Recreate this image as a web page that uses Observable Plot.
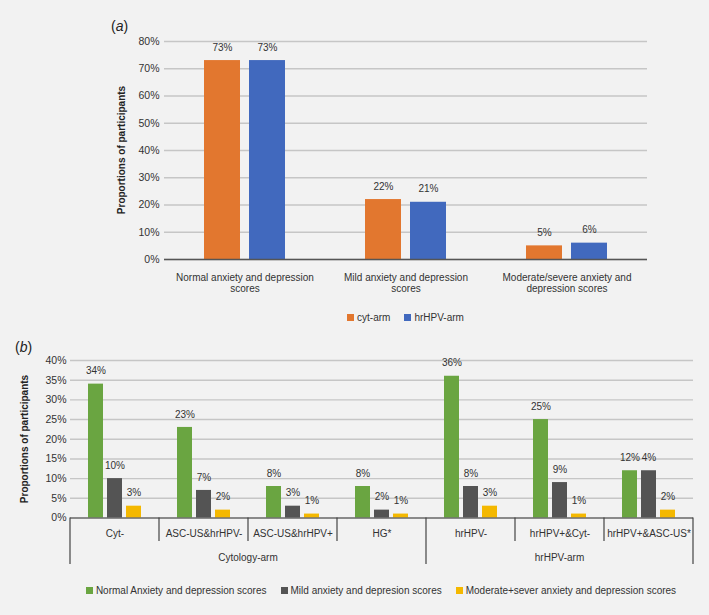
<!DOCTYPE html>
<html><head><meta charset="utf-8">
<script src="https://cdn.jsdelivr.net/npm/d3@7"></script>
<script src="https://cdn.jsdelivr.net/npm/@observablehq/plot@0.6"></script>
<style>
html,body{margin:0;padding:0;background:#f2f2f2;}
#root{position:relative;width:709px;height:615px;overflow:hidden;font-family:"Liberation Sans",Arial,sans-serif;color:#333;}
.abs{position:absolute;}
.ptitle{font-size:14px;color:#222;line-height:1;transform:translateY(-50%);}
.ytitle{font-size:10px;font-weight:bold;color:#222;white-space:nowrap;line-height:1;transform:translate(-50%,-50%) rotate(-90deg);}
.legwrap{display:flex;justify-content:center;align-items:center;}
.legwrap .lg-swatches-wrap{min-height:0;margin:0;display:flex;align-items:center;}
.legwrap .lg-swatches{margin:0;}
.legwrap .lg-swatch{margin-right:14px;font-family:"Liberation Sans",Arial,sans-serif;font-size:10px;color:#333;}
.legwrap .lg-swatch:last-child{margin-right:0;}
.legwrap .lg-swatch > svg{margin-right:3px;}
</style>
</head><body>
<div id="root"></div>
<script>
// ---------- Panel (a) data ----------
const aCategories = ["Normal anxiety and depression scores", "Mild anxiety and depression scores", "Moderate/severe anxiety and depression scores"];
const aTickLabels = ["Normal anxiety and depression\nscores", "Mild anxiety and depression\nscores", "Moderate/severe anxiety and\ndepression scores"];
const aSeries = ["cyt-arm", "hrHPV-arm"];
const aCyt = [73, 22, 5];
const aHrHPV = [73, 21, 6];
const aColors = ["#e2772f", "#4169be"];
const aYTicks = [0, 10, 20, 30, 40, 50, 60, 70, 80];

// ---------- Panel (b) data ----------
const bCategories = ["Cyt-", "ASC-US&hrHPV-", "ASC-US&hrHPV+", "HG*", "hrHPV-", "hrHPV+&Cyt-", "hrHPV+&ASC-US*"];
const bGroups = ["Cytology-arm", "Cytology-arm", "Cytology-arm", "Cytology-arm", "hrHPV-arm", "hrHPV-arm", "hrHPV-arm"];
const bSeries = ["Normal Anxiety and depression scores", "Mild anxiety and depresion scores", "Moderate+sever anxiety and depression scores"];
const bNormal = [34, 23, 8, 8, 36, 25, 12];
const bMild = [10, 7, 3, 2, 8, 9, 12];
const bModerate = [3, 2, 1, 1, 3, 1, 2];
const bNormalLabels = ["34%", "23%", "8%", "8%", "36%", "25%", "12%"];
const bMildLabels = ["10%", "7%", "3%", "2%", "8%", "9%", "4%"];
const bModerateLabels = ["3%", "2%", "1%", "1%", "3%", "1%", "2%"];
const bColors = ["#6aa541", "#545454", "#f4b800"];
const bYTicks = [0, 5, 10, 15, 20, 25, 30, 35, 40];

const root = document.getElementById("root");
const font = '"Liberation Sans", Arial, sans-serif';

function addDiv(cls, html, left, top, extra) {
  const d = document.createElement("div");
  d.className = "abs " + cls;
  d.innerHTML = html;
  d.style.left = left + "px";
  d.style.top = top + "px";
  if (extra) Object.assign(d.style, extra);
  root.appendChild(d);
  return d;
}

// ---------- Panel (a) ----------
const aData = aCategories.flatMap((c, i) => [
  {category: c, series: aSeries[0], value: aCyt[i]},
  {category: c, series: aSeries[1], value: aHrHPV[i]}
]);

const chartA = Plot.plot({
  width: 709, height: 300,
  marginTop: 41, marginBottom: 41, marginLeft: 164, marginRight: 62,
  style: {background: "transparent", fontFamily: font, fontSize: "10px", color: "#333"},
  fx: {domain: aCategories, padding: 0, label: null, axis: null},
  x: {domain: aSeries, paddingInner: 0.2, paddingOuter: 0.877, axis: null},
  y: {domain: [0, 80], label: null, axis: null},
  color: {domain: aSeries, range: aColors},
  marks: [
    Plot.gridY(aYTicks, {stroke: "#c6c6c6", strokeOpacity: 1, strokeWidth: 1.4}),
    Plot.axisY(aYTicks, {tickSize: 0, tickPadding: 5, tickFormat: d => d + "%", fontSize: 10.5, fill: "#333", label: null}),
    Plot.axisFx({anchor: "bottom", tickSize: 0, tickPadding: 13, fontSize: 10, fill: "#333", lineHeight: 1.15, label: null,
      tickFormat: d => aTickLabels[aCategories.indexOf(d)]}),
    Plot.barY(aData, {fx: "category", x: "series", y: "value", fill: "series"}),
    Plot.ruleY([0], {stroke: "#555", strokeWidth: 1.6}),
    Plot.text(aData, {fx: "category", x: "series", y: "value", text: d => d.value + "%", dy: -13, fontSize: 10, fill: "#333"})
  ]
});
chartA.style.position = "absolute";
chartA.style.left = "0px";
chartA.style.top = "0px";
root.appendChild(chartA);

addDiv("ptitle", "(<i>a</i>)", 111, 26);
addDiv("ytitle", "Proportions of participants", 121.5, 150);

const legA = chartA.legend("color", {legend: "swatches", swatchSize: 7, className: "lg"});
const legAWrap = addDiv("legwrap", "", 164, 311, {width: "483px", height: "13px"});
legAWrap.appendChild(legA);

// ---------- Panel (b) ----------
const bData = bCategories.flatMap((c, i) => [
  {category: c, series: bSeries[0], value: bNormal[i], label: bNormalLabels[i]},
  {category: c, series: bSeries[1], value: bMild[i], label: bMildLabels[i]},
  {category: c, series: bSeries[2], value: bModerate[i], label: bModerateLabels[i]}
]);

const chartB = Plot.plot({
  width: 709, height: 285,
  marginTop: 30, marginBottom: 97.5, marginLeft: 68, marginRight: 15,
  style: {background: "transparent", fontFamily: font, fontSize: "10px", color: "#333"},
  fx: {domain: bCategories, padding: 0, label: null, axis: null},
  x: {domain: bSeries, paddingInner: 0.2, paddingOuter: 0.867, axis: null},
  y: {domain: [0, 40], label: null, axis: null},
  color: {domain: bSeries, range: bColors},
  marks: [
    Plot.gridY(bYTicks, {stroke: "#c6c6c6", strokeOpacity: 1, strokeWidth: 1.4}),
    Plot.axisY(bYTicks, {tickSize: 0, tickPadding: 4, tickFormat: d => d + "%", fontSize: 10.5, fill: "#333", label: null}),
    Plot.axisFx({anchor: "bottom", tickSize: 0, tickPadding: 12, fontSize: 10, fill: "#333", label: null}),
    Plot.barY(bData, {fx: "category", x: "series", y: "value", fill: "series"}),
    Plot.ruleY([0], {stroke: "#444", strokeWidth: 1.2}),
    Plot.text(bData, {fx: "category", x: "series", y: "value", text: "label", dy: -13, fontSize: 10, fill: "#333"})
  ]
});
chartB.style.position = "absolute";
chartB.style.left = "0px";
chartB.style.top = "330px";
root.appendChild(chartB);

// hierarchical category axis (separators + group labels) from Plot's fx scale
{
  const fx = chartB.scale("fx");
  const y0 = chartB.scale("y").apply(0);
  const bw = fx.bandwidth;
  const svg = d3.select(chartB);
  const g = svg.append("g").attr("stroke", "#444").attr("stroke-width", 1.2);
  const groupNames = Array.from(new Set(bGroups));
  bCategories.forEach((c, i) => {
    const x = fx.apply(c);
    const edge = i === 0 || bGroups[i] !== bGroups[i - 1];
    g.append("line").attr("x1", x).attr("x2", x).attr("y1", y0).attr("y2", y0 + (edge ? 46.5 : 23.5));
  });
  const xr = fx.apply(bCategories[bCategories.length - 1]) + bw;
  g.append("line").attr("x1", xr).attr("x2", xr).attr("y1", y0).attr("y2", y0 + 46.5);
  groupNames.forEach(name => {
    const cats = bCategories.filter((c, i) => bGroups[i] === name);
    const x1 = fx.apply(cats[0]);
    const x2 = fx.apply(cats[cats.length - 1]) + bw;
    svg.append("text")
      .attr("x", (x1 + x2) / 2).attr("y", y0 + 39.5)
      .attr("text-anchor", "middle").attr("dominant-baseline", "central")
      .attr("font-family", font).attr("font-size", 10).attr("fill", "#333")
      .text(name);
  });
}

addDiv("ptitle", "(<i>b</i>)", 15, 347);
addDiv("ytitle", "Proportions of participants", 24.5, 439);

const legB = chartB.legend("color", {legend: "swatches", swatchSize: 7, className: "lg"});
const legBWrap = addDiv("legwrap", "", 68, 584, {width: "626px", height: "13px"});
legBWrap.appendChild(legB);
</script>
</body></html>
